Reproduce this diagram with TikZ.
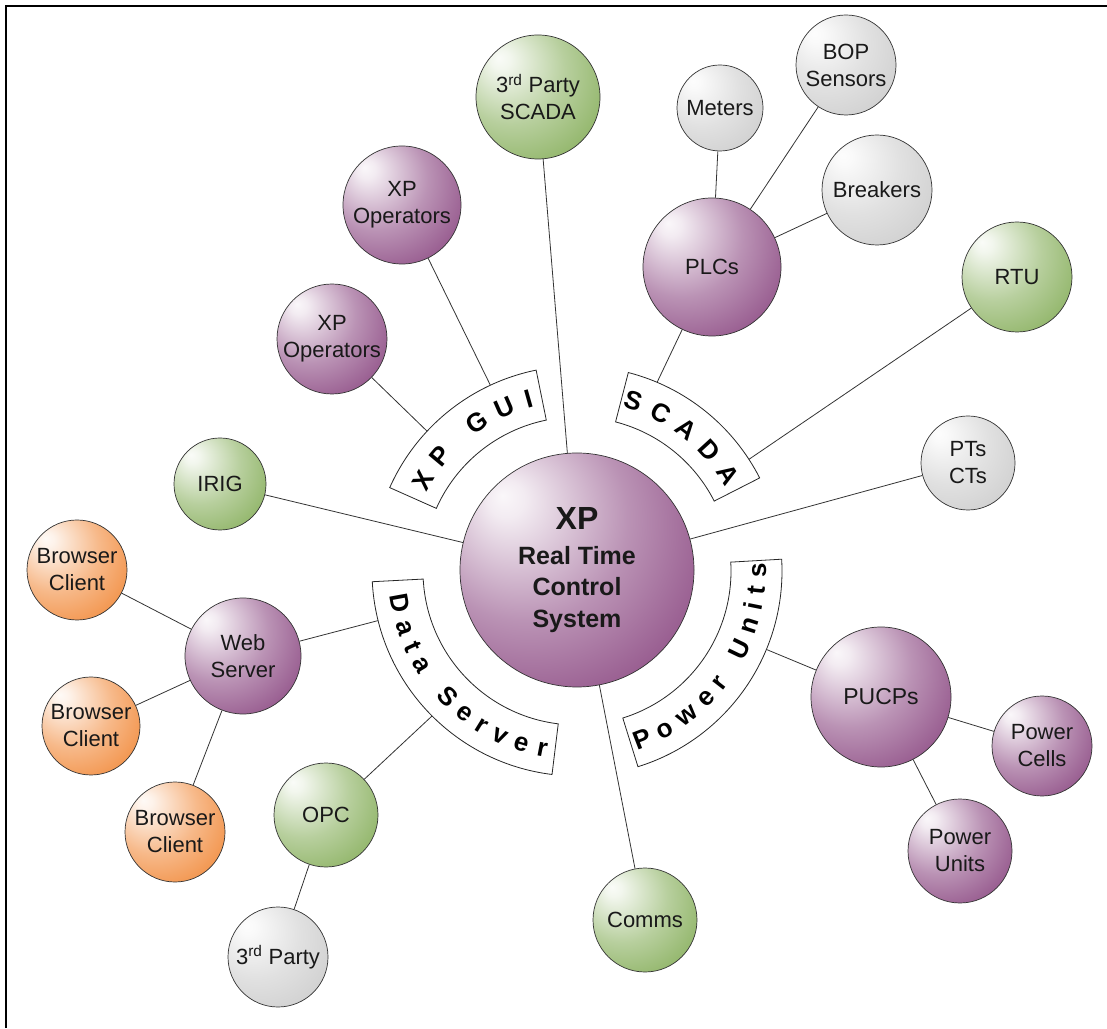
\documentclass[tikz,border=0pt]{standalone}
\usepackage{fontspec}
\setmainfont{Liberation Sans}
\usetikzlibrary{decorations.text}
\definecolor{purp}{RGB}{130,58,120}
\definecolor{grn}{RGB}{125,168,78}
\definecolor{orng}{RGB}{240,128,42}
\definecolor{gry}{RGB}{200,200,200}
\newcommand\declareorb[2]{\pgfdeclareradialshading{#1}{\pgfpoint{-16bp}{16bp}}{color(0bp)=(#2!4!white); color(4bp)=(#2!10!white); color(22bp)=(#2!55!white); color(46bp)=(#2); color(72bp)=(#2!75!black)}}
\declareorb{purpball}{purp}
\declareorb{grnball}{grn}
\declareorb{orngball}{orng}
\declareorb{gryball}{gry}
\begin{document}
\begin{tikzpicture}[x=1pt,y=1pt,
	orb/.style={circle,shade,draw=black!80,line width=0.7pt,inner sep=0pt,align=center,text=black!90,font=\fontsize{22}{27}\selectfont},
	purporb/.style={orb,shading=purpball},
	grnorb/.style={orb,shading=grnball},
	orngorb/.style={orb,shading=orngball},
	gryorb/.style={orb,shading=gryball},
	link/.style={draw=black!80,line width=0.8pt},
	band/.style={draw=black!85,line width=0.8pt,fill=white}]
		\useasboundingbox (0,0) rectangle (1107,1028);
		\draw[line width=2.2pt] (6,0) -- (6,1022) -- (1107,1022);
		\node[purporb,minimum size=234pt,font=\bfseries\fontsize{25}{31.5}\selectfont] (xp) at (577,458) {{\fontsize{32}{36}\selectfont XP}\\[3pt]Real Time\\Control\\System};
		\node[grnorb,minimum size=124pt] (scada3) at (538,931) {3\textsuperscript{rd} Party\\SCADA};
		\node[gryorb,minimum size=86pt] (meters) at (720,920) {Meters};
		\node[gryorb,minimum size=100pt] (bop) at (846,963) {BOP\\Sensors};
		\node[gryorb,minimum size=110pt] (breakers) at (877,838) {Breakers};
		\node[purporb,minimum size=138pt] (plcs) at (712,761) {PLCs};
		\node[grnorb,minimum size=110pt] (rtu) at (1017,751) {RTU};
		\node[gryorb,minimum size=94pt] (ptct) at (968,565) {PTs\\CTs};
		\node[purporb,minimum size=118pt] (ops1) at (402,823) {XP\\Operators};
		\node[purporb,minimum size=110pt] (ops2) at (332,689) {XP\\Operators};
		\node[grnorb,minimum size=92pt] (irig) at (220,544) {IRIG};
		\node[orngorb,minimum size=100pt] (client1) at (77,458) {Browser\\Client};
		\node[purporb,minimum size=116pt] (web) at (243,372) {Web\\Server};
		\node[orngorb,minimum size=98pt] (client2) at (91,302) {Browser\\Client};
		\node[orngorb,minimum size=100pt] (client3) at (175,196) {Browser\\Client};
		\node[grnorb,minimum size=104pt] (opc) at (326,213) {OPC};
		\node[gryorb,minimum size=100pt] (party3) at (278,71) {3\textsuperscript{rd} Party};
		\node[grnorb,minimum size=104pt] (comms) at (645,108) {Comms};
		\node[purporb,minimum size=140pt,font=\fontsize{23}{27}\selectfont] (pucps) at (881,331) {PUCPs};
		\node[purporb,minimum size=100pt] (cells) at (1042,282) {Power\\Cells};
		\node[purporb,minimum size=104pt] (units) at (960,177) {Power\\Units};
		\begin{scope}[shift={(577,457)}]
			\foreach \a/\b in {101.5/156,27/75.5,183/263,-72.7/3.3}
				\draw[band] (\a:205) arc[start angle=\a,end angle=\b,radius=205] -- (\b:154) arc[start angle=\b,end angle=\a,radius=154] -- cycle;
			\coordinate (gui1) at (115:205);
			\coordinate (gui2) at (137:205);
			\coordinate (sc1) at (67:205);
			\coordinate (sc2) at (33:205);
			\coordinate (ds1) at (194:205);
			\coordinate (ds2) at (225:205);
			\coordinate (pu1) at (-22.5:205);
			\path[decorate,decoration={text along path,text align=fit to path,text={|\bfseries\fontsize{26}{26}\selectfont|XP GUI}}] (152.5:170) arc[start angle=152.5,end angle=104.5,radius=170];
			\path[decorate,decoration={text along path,text align=fit to path,text={|\bfseries\fontsize{26}{26}\selectfont|SCADA}}] (74.5:170) arc[start angle=74.5,end angle=29.5,radius=170];
			\path[decorate,decoration={text along path,text align=fit to path,text={|\bfseries\fontsize{26}{26}\selectfont|Data Server}}] (187.5:189) arc[start angle=187.5,end angle=260.5,radius=189];
			\path[decorate,decoration={text along path,text align=fit to path,text={|\bfseries\fontsize{26}{26}\selectfont|Power Units}}] (-71.5:189) arc[start angle=-71.5,end angle=2.5,radius=189];
		\end{scope}
		\draw[link] (scada3) -- (xp);
		\draw[link] (irig) -- (xp);
		\draw[link] (ptct) -- (xp);
		\draw[link] (comms) -- (xp);
		\draw[link] (meters) -- (plcs);
		\draw[link] (bop) -- (plcs);
		\draw[link] (breakers) -- (plcs);
		\draw[link] (plcs) -- (sc1);
		\draw[link] (rtu) -- (sc2);
		\draw[link] (ops1) -- (gui1);
		\draw[link] (ops2) -- (gui2);
		\draw[link] (web) -- (ds1);
		\draw[link] (opc) -- (ds2);
		\draw[link] (client1) -- (web);
		\draw[link] (client2) -- (web);
		\draw[link] (client3) -- (web);
		\draw[link] (party3) -- (opc);
		\draw[link] (pucps) -- (pu1);
		\draw[link] (pucps) -- (cells);
		\draw[link] (pucps) -- (units);
	\end{tikzpicture}
\end{document}
